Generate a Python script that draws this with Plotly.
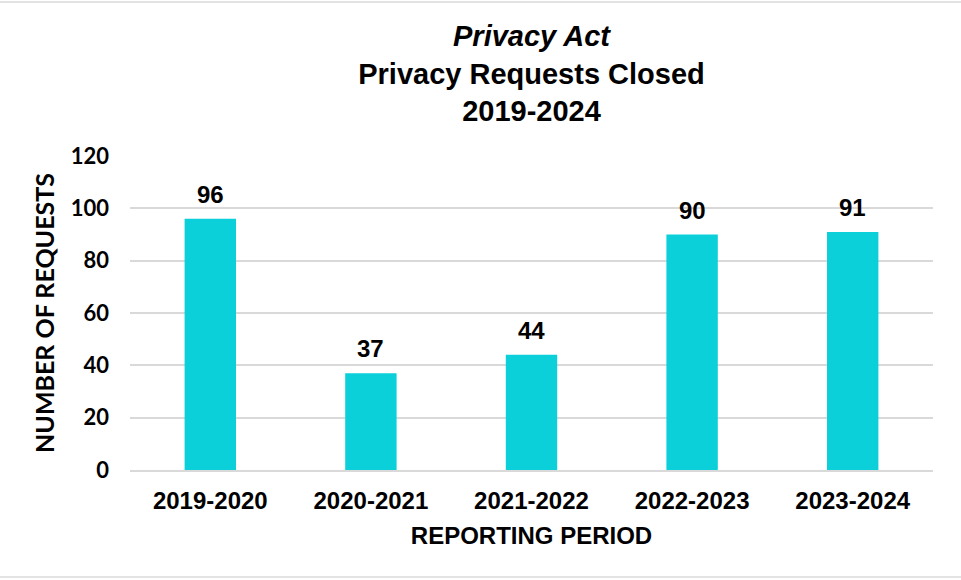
import plotly.graph_objects as go

periods = ["2019-2020", "2020-2021", "2021-2022", "2022-2023", "2023-2024"]
requests_closed = [96, 37, 44, 90, 91]
y_ticks = [0, 20, 40, 60, 80, 100, 120]

W, H = 961, 580
L, R, T, B = 130, 28, 156, 110
pw, ph = W - L - R, H - T - B

arial = "Liberation Sans, Arial, sans-serif"
geo = "Century Gothic, Lato, Liberation Sans, sans-serif"

fig = go.Figure()
fig.add_trace(go.Bar(
    x=periods, y=requests_closed,
    marker=dict(color="#0BD0D9", line=dict(width=0)),
    hoverinfo="x+y",
))

for p, v in zip(periods, requests_closed):
    fig.add_annotation(x=p, y=v, text=str(v), showarrow=False,
                       yanchor="bottom", yshift=9,
                       font=dict(family=arial, size=24, color="black", weight="bold"))

# outer light border lines (top and bottom)
for yy in [1 + (T - 2) / ph, -(H - 3 - (H - B)) / ph]:
    fig.add_shape(type="line", xref="paper", yref="paper",
                  x0=-L / pw, x1=1 + R / pw, y0=yy, y1=yy,
                  line=dict(color="#E3E3E3", width=2))

fig.update_layout(
    width=W, height=H,
    margin=dict(l=L, r=R, t=T, b=B, pad=0),
    paper_bgcolor="white", plot_bgcolor="white",
    bargap=0.68,
    showlegend=False,
    title=dict(
        text="<i>Privacy Act</i><br>Privacy Requests Closed<br>2019-2024",
        x=0.5, xref="paper", xanchor="center",
        y=1 - 46 / H, yref="container", yanchor="top",
        font=dict(family=arial, size=29, color="black", weight="bold"),
    ),
    xaxis=dict(
        title=dict(text="REPORTING PERIOD", standoff=14,
                   font=dict(family=arial, size=24, color="black", weight="bold")),
        tickfont=dict(family=arial, size=24, color="black", weight="bold"),
        showgrid=False, showline=True, linecolor="#D9D9D9", linewidth=2,
        ticks="", ticklabelstandoff=8,
    ),
    yaxis=dict(
        title=dict(text="NUMBER OF REQUESTS", standoff=8,
                   font=dict(family=geo, size=25, color="black", weight="bold")),
        tickfont=dict(family=geo, size=22, color="black", weight="bold"),
        range=[0, 120], tickvals=y_ticks,
        showgrid=True, gridcolor="#D9D9D9", gridwidth=2,
        zeroline=False, showline=False, ticks="",
        ticklabelstandoff=20,
    ),
)

fig.write_html("out.html")
